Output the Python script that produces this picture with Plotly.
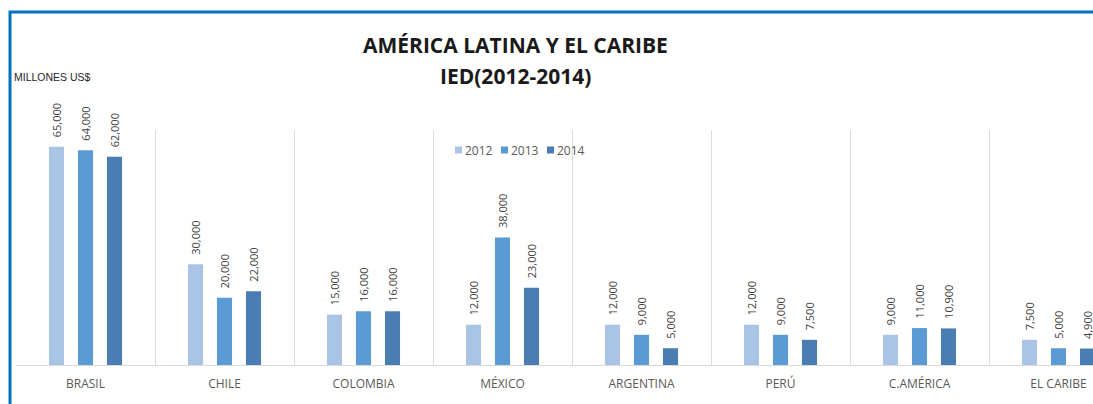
import plotly.graph_objects as go

# Inversión extranjera directa por región, millones de US$
regiones = ["BRASIL", "CHILE", "COLOMBIA", "MÉXICO", "ARGENTINA", "PERÚ", "C.AMÉRICA", "EL CARIBE"]
anios = ["2012", "2013", "2014"]
ied_2012 = [65000, 30000, 15000, 12000, 12000, 12000, 9000, 7500]
ied_2013 = [64000, 20000, 16000, 38000, 9000, 9000, 11000, 5000]
ied_2014 = [62000, 22000, 16000, 23000, 5000, 7500, 10900, 4900]

colores = ["#A9C4E5", "#5B9BD5", "#4A7DB1"]
series = [ied_2012, ied_2013, ied_2014]

W, H = 1093, 404
ML, MR, MT, MB = 16, 0, 130, 39
plot_w = W - ML - MR
plot_h = H - MT - MB
cat_px = 139      # ancho de cada categoría en píxeles
slot_px = 29      # separación entre barras de un mismo grupo


def px_x(x):
    return (x - ML) / plot_w


def px_y(y):
    return (H - MB - y) / plot_h


fig = go.Figure()
for anio, vals, col in zip(anios, series, colores):
    fig.add_trace(go.Bar(
        name=anio,
        x=regiones,
        y=vals,
        marker=dict(color=col, line=dict(width=0)),
        hoverinfo="skip",
        showlegend=False,
    ))

annotations = []
# Etiquetas de valor, verticales, sobre cada barra
for i, vals in enumerate(series):
    for reg, v in zip(regiones, vals):
        annotations.append(dict(
            x=reg, y=v, xref="x", yref="y",
            text=f"{v:,}", textangle=-90,
            xanchor="center", yanchor="bottom",
            xshift=(i - 1) * slot_px, yshift=7,
            showarrow=False,
            font=dict(family="Open Sans", size=11, color="#404040"),
        ))

# Leyenda compacta: cuadro de color + año
shapes = []
leg_x0, leg_step, leg_y = 455, 46, 150
for i, (anio, col) in enumerate(zip(anios, colores)):
    x0 = leg_x0 + i * leg_step
    shapes.append(dict(type="rect", xref="paper", yref="paper",
                       x0=px_x(x0), x1=px_x(x0 + 7), y0=px_y(leg_y + 3.5), y1=px_y(leg_y - 3.5),
                       fillcolor=col, line=dict(width=0)))
    annotations.append(dict(text=anio, xref="paper", yref="paper",
                            x=px_x(x0 + 8), y=px_y(leg_y), xanchor="left", yanchor="middle",
                            showarrow=False,
                            font=dict(family="Open Sans", size=12, color="#595959")))

annotations += [
    dict(text="<b>AMÉRICA LATINA Y EL CARIBE</b>", xref="paper", yref="paper",
         x=px_x(515), y=px_y(45), xanchor="center", yanchor="middle", showarrow=False,
         font=dict(family="Open Sans", size=21, color="#1A1A1A")),
    dict(text="<b>IED(2012-2014)</b>", xref="paper", yref="paper",
         x=px_x(515), y=px_y(76), xanchor="center", yanchor="middle", showarrow=False,
         font=dict(family="Open Sans", size=21, color="#1A1A1A")),
    dict(text="MILLONES US$", xref="paper", yref="paper",
         x=px_x(12), y=px_y(77), xanchor="left", yanchor="middle", showarrow=False,
         font=dict(family="Liberation Sans", size=10.5, color="#262626")),
]

# Marco azul del gráfico
shapes.append(dict(type="rect", xref="paper", yref="paper",
                   x0=px_x(10), x1=px_x(1200), y0=px_y(450), y1=px_y(12),
                   line=dict(color="#0070C0", width=3), fillcolor="rgba(0,0,0,0)", layer="above"))

fig.update_layout(
    width=W,
    height=H,
    margin=dict(l=ML, r=MR, t=MT, b=MB),
    paper_bgcolor="white",
    plot_bgcolor="white",
    barmode="group",
    bargap=1 - 3 * slot_px / cat_px,
    bargroupgap=0.48,
    showlegend=False,
    xaxis=dict(
        range=[-0.5, -0.5 + plot_w / cat_px],
        tickson="boundaries",
        showgrid=True,
        gridcolor="#DCDCDC",
        gridwidth=1,
        showline=True,
        linecolor="#D9D9D9",
        linewidth=1,
        ticks="",
        ticklabelstandoff=8,
        tickfont=dict(family="Open Sans", size=12, color="#595959"),
        fixedrange=True,
    ),
    yaxis=dict(
        range=[0, 70000],
        showgrid=False,
        zeroline=False,
        showticklabels=False,
        ticks="",
        fixedrange=True,
    ),
    annotations=annotations,
    shapes=shapes,
)

fig.write_html("out.html")
